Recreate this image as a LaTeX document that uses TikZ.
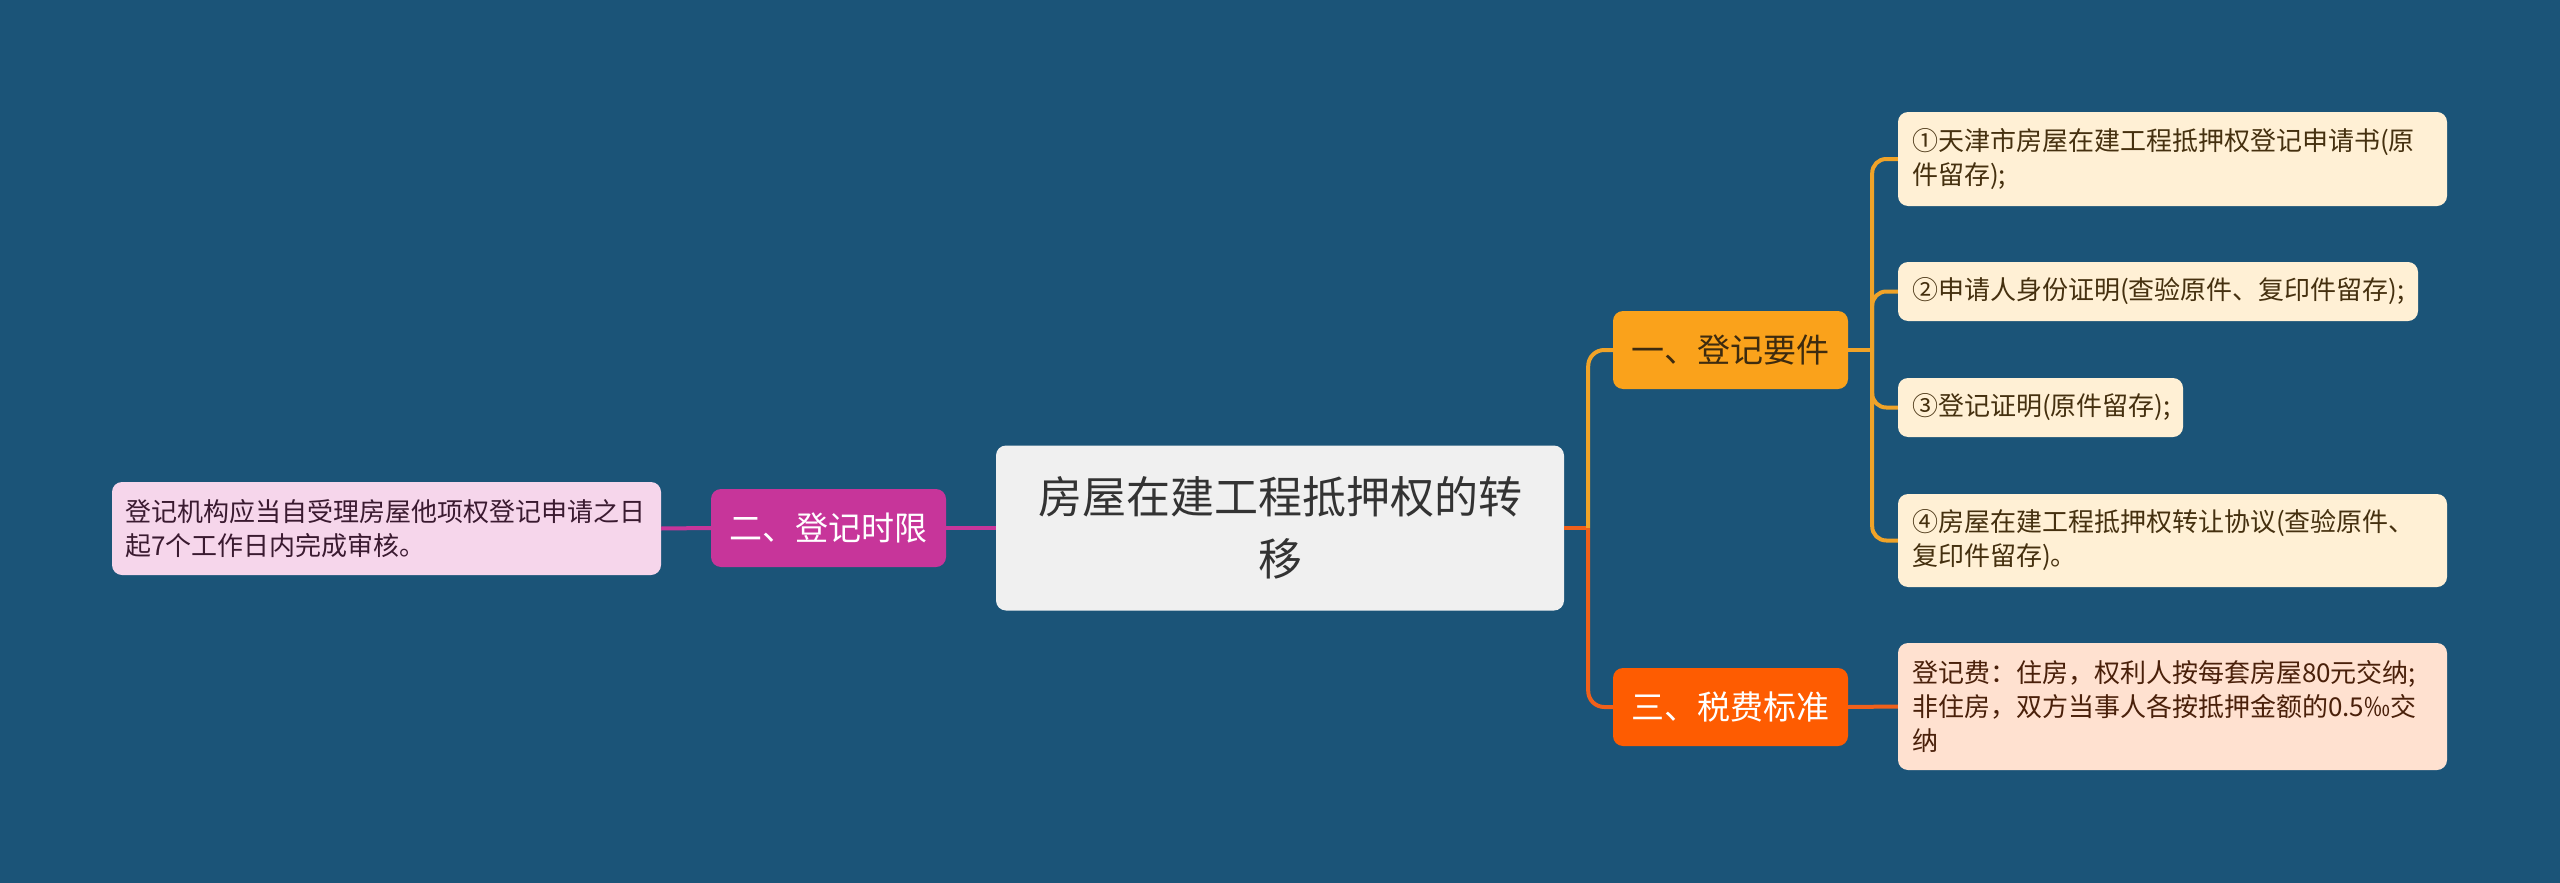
\documentclass[tikz,border=0pt]{standalone}
\usepackage{fontspec}
\setmainfont{Noto Sans CJK SC}
\definecolor{bg}{RGB}{27,84,120}
\definecolor{rootfill}{RGB}{240,240,240}
\definecolor{roottext}{RGB}{51,51,51}
\definecolor{bOne}{RGB}{250,162,27}
\definecolor{bOneText}{RGB}{61,43,15}
\definecolor{bTwo}{RGB}{199,53,154}
\definecolor{bThree}{RGB}{254,92,1}
\definecolor{cream}{RGB}{255,240,213}
\definecolor{creamText}{RGB}{69,48,15}
\definecolor{pinkleaf}{RGB}{246,214,235}
\definecolor{pinkText}{RGB}{58,26,48}
\definecolor{peach}{RGB}{255,225,208}
\definecolor{peachText}{RGB}{74,32,10}
\definecolor{cOne}{RGB}{240,163,40}
\definecolor{cTwo}{RGB}{199,53,154}
\definecolor{cThree}{RGB}{240,96,26}
\tikzset{
  rootbox/.style={fill=rootfill, rounded corners=10pt, text=roottext,
    font=\fontsize{44}{62}\selectfont, align=center,
    minimum width=568pt, minimum height=165pt, inner sep=0pt},
  brbox/.style={rounded corners=10pt, font=\fontsize{33}{40}\selectfont,
    minimum width=235pt, minimum height=78pt, inner sep=0pt},
  leafbox/.style={rounded corners=10pt, font=\fontsize{26}{34}\selectfont,
    align=left, inner xsep=14pt, inner ysep=0pt},
  conn/.style={line width=4pt},
}
\begin{document}
\begin{tikzpicture}[x=1pt,y=-1pt]
\useasboundingbox (0,0) rectangle (2560,883);
\fill[bg] (0,0) rectangle (2560,883);

\node[rootbox] (root) at (1280,528) {房屋在建工程抵押权的转\\移};

\node[brbox, fill=bOne, text=bOneText] (b1) at (1730.5,350) {一、登记要件};
\node[brbox, fill=bTwo, text=white] (b2) at (828.5,528) {二、登记时限};
\node[brbox, fill=bThree, text=white] (b3) at (1730.5,707) {三、税费标准};

\node[leafbox, fill=cream, text=creamText, text width=521pt, minimum height=94pt] (l1) at (2172.5,159)
  {①天津市房屋在建工程抵押权登记申请书(原\\件留存);};
\node[leafbox, fill=cream, text=creamText, text width=492pt, minimum height=59pt] (l2) at (2158,291.5)
  {②申请人身份证明(查验原件、复印件留存);};
\node[leafbox, fill=cream, text=creamText, text width=257pt, minimum height=59pt] (l3) at (2040.5,407.5)
  {③登记证明(原件留存);};
\node[leafbox, fill=cream, text=creamText, text width=521pt, minimum height=93pt] (l4) at (2172.5,540.5)
  {④房屋在建工程抵押权转让协议(查验原件、\\复印件留存)。};
\node[leafbox, fill=peach, text=peachText, text width=521pt, minimum height=127pt] (l5) at (2172.5,706.5)
  {登记费：住房，权利人按每套房屋80元交纳;\\非住房，双方当事人各按抵押金额的0.5‰交\\纳};
\node[leafbox, fill=pinkleaf, text=pinkText, text width=523pt, inner xsep=13pt, minimum height=93pt] (l0) at (386.5,528.5)
  {登记机构应当自受理房屋他项权登记申请之日\\起7个工作日内完成审核。};

\path (root.east) ++(24,0) coordinate (j0);
\path (b1.east) ++(24,0) coordinate (j1);

\draw[conn, cThree] (root.east) -- (j0);
\draw[conn, cOne, rounded corners=16pt] (j0) |- (b1.west);
\draw[conn, cThree, rounded corners=16pt] (j0) |- (b3.west);
\draw[conn, cTwo] (root.west) -- (b2.east);
\draw[conn, cTwo] (b2.west) -- (l0.east);
\draw[conn, cOne] (b1.east) -- (j1);
\foreach \n in {l1,l2,l3,l4}
  \draw[conn, cOne, rounded corners=14pt] (j1) |- (\n.west);
\draw[conn, cThree] (b3.east) -- (l5.west);
\end{tikzpicture}
\end{document}
